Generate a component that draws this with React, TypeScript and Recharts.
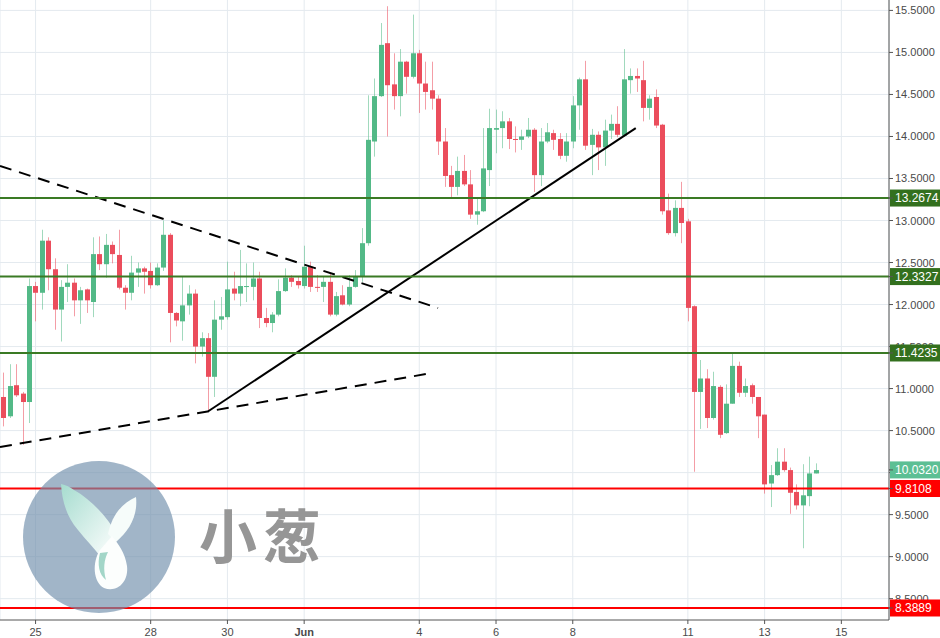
import React from "react";
import { Bar, CartesianGrid, ComposedChart, ReferenceLine, XAxis, YAxis } from "recharts";

// 4h candles, index 0 = 24 May 04:00
const opens = [
  10.9, 10.67, 11.04, 10.94, 10.84, 12.22, 12.14, 12.76, 12.42, 11.94, 12.21, 12.26, 12.05, 12.18, 12.03, 12.6,
  12.48, 12.71, 12.59, 12.2, 12.14, 12.38, 12.43, 12.4, 12.23, 12.44, 12.83, 11.9, 11.8, 11.99, 12.13, 11.5,
  11.6, 11.14, 11.82, 11.85, 12.19, 12.13, 12.21, 12.21, 12.31, 11.84, 11.78, 11.88, 12.16, 12.32, 12.28, 12.22,
  12.45, 12.21, 12.21, 12.27, 11.88, 12.11, 12.0, 12.21, 12.33, 12.73, 13.94, 14.48, 15.11, 14.62, 14.48, 14.89,
  14.71, 14.99, 14.63, 14.55, 14.45, 13.94, 13.54, 13.4, 13.59, 13.43, 13.07, 13.11, 13.6, 14.08, 14.1, 14.18,
  13.97, 13.96, 14.0, 14.08, 13.54, 13.94, 14.04, 13.97, 13.77, 13.94, 14.37, 14.68, 13.9, 14.02, 13.87, 14.07,
  14.15, 14.01, 14.67, 14.72, 14.67, 14.34, 14.47, 14.14, 13.12, 12.85, 13.15, 12.99, 11.98, 10.96, 11.12, 10.65,
  11.02, 10.47, 10.82, 11.27, 10.95, 11.04, 10.9, 10.69, 9.87, 9.97, 10.13, 10.03, 9.77, 9.61, 9.72, 9.99,
];
const highs = [
  11.19, 11.29, 11.29, 10.96, 12.31, 12.27, 12.89, 12.8, 12.55, 12.29, 12.48, 12.31, 12.21, 12.19, 12.8, 12.81,
  12.84, 12.75, 12.89, 12.23, 12.58, 12.5, 12.45, 12.5, 12.49, 13.0, 12.85, 11.91, 12.33, 12.23, 12.18, 11.67,
  11.66, 12.05, 12.09, 12.51, 12.39, 12.65, 12.49, 12.5, 12.39, 11.96, 11.91, 12.3, 12.43, 12.35, 12.33, 12.7,
  12.51, 12.35, 12.33, 12.37, 12.15, 12.23, 12.35, 12.41, 12.91, 14.49, 14.69, 15.35, 15.55, 14.99, 15.04, 14.9,
  15.45, 15.03, 14.89, 14.89, 14.49, 14.1, 13.65, 13.76, 13.78, 13.6, 13.26, 14.1, 14.33, 14.32, 14.3, 14.22,
  14.12, 14.08, 14.22, 14.1, 14.1, 14.16, 14.08, 14.04, 14.04, 14.48, 14.7, 14.9, 14.09, 14.06, 14.2, 14.26,
  14.36, 15.04, 14.81, 14.81, 14.9, 14.49, 14.56, 14.15, 13.32, 13.24, 13.46, 13.02, 11.99, 11.34, 11.23, 11.2,
  11.04, 11.05, 11.42, 11.32, 11.12, 11.06, 10.9, 10.69, 10.09, 10.29, 10.29, 10.06, 9.86, 10.1, 10.19, 10.11,
];
const lows = [
  10.55, 10.65, 10.9, 10.33, 10.59, 11.8, 11.94, 12.17, 11.7, 11.56, 12.03, 11.86, 11.77, 11.9, 11.85, 12.41,
  12.32, 12.49, 12.18, 11.94, 12.05, 12.21, 12.13, 12.19, 12.22, 12.4, 11.55, 11.74, 11.57, 11.88, 11.3, 11.38,
  10.73, 10.9, 11.7, 11.82, 12.05, 11.98, 12.03, 12.05, 11.72, 11.73, 11.67, 11.86, 12.15, 12.21, 12.19, 12.19,
  12.15, 12.15, 12.03, 11.86, 11.86, 11.99, 11.98, 12.2, 12.27, 12.7, 13.76, 14.47, 14.0, 14.32, 14.24, 14.51,
  14.69, 14.28, 14.32, 14.32, 13.78, 13.4, 13.26, 13.3, 13.41, 13.02, 12.95, 13.1, 13.41, 13.8, 13.86, 13.85,
  13.81, 13.84, 13.98, 13.34, 13.41, 13.92, 13.84, 13.73, 13.7, 13.86, 14.08, 13.84, 13.54, 13.6, 13.65, 13.97,
  13.99, 14.0, 14.51, 14.53, 14.18, 14.2, 14.1, 13.07, 12.83, 12.81, 12.73, 11.8, 10.01, 10.52, 10.53, 10.63,
  10.41, 10.46, 10.82, 10.9, 10.9, 10.82, 10.41, 9.75, 9.59, 9.96, 10.01, 9.51, 9.56, 9.1, 9.6, 9.99,
];
const closes = [
  10.65, 11.03, 10.92, 10.84, 12.22, 12.14, 12.76, 12.42, 11.94, 12.21, 12.26, 12.05, 12.17, 12.05, 12.6, 12.48,
  12.71, 12.6, 12.2, 12.14, 12.38, 12.43, 12.39, 12.23, 12.44, 12.83, 11.9, 11.81, 11.99, 12.13, 11.5, 11.6,
  11.14, 11.82, 11.86, 12.18, 12.13, 12.22, 12.22, 12.31, 11.84, 11.78, 11.88, 12.16, 12.32, 12.27, 12.23, 12.45,
  12.21, 12.2, 12.27, 11.88, 12.1, 12.0, 12.21, 12.34, 12.73, 13.96, 14.48, 15.09, 14.61, 14.48, 14.89, 14.71,
  14.99, 14.63, 14.53, 14.45, 13.94, 13.53, 13.4, 13.59, 13.43, 13.07, 13.11, 13.62, 14.1, 14.1, 14.18, 13.97,
  13.96, 14.0, 14.08, 13.54, 13.94, 14.05, 13.96, 13.77, 13.94, 14.37, 14.68, 13.89, 14.02, 13.87, 14.07, 14.15,
  14.02, 14.68, 14.72, 14.69, 14.34, 14.45, 14.13, 13.11, 12.85, 13.15, 12.97, 11.96, 10.96, 11.12, 10.65, 11.03,
  10.45, 10.82, 11.27, 10.95, 11.03, 10.9, 10.67, 9.86, 9.97, 10.13, 10.03, 9.76, 9.61, 9.73, 9.99, 10.03,
];

const tickIndex = [5, 23, 35, 47, 65, 77, 89, 107, 119, 131];
const tickLabels = ["25", "28", "30", "Jun", "4", "6", "8", "11", "13", "15"];
const priceTicks = [8.5, 9, 9.5, 10, 10.5, 11, 11.5, 12, 12.5, 13, 13.5, 14, 14.5, 15, 15.5];

const greenLevels = [13.2674, 12.3327, 11.4235];
const redLevels = [9.8108, 8.3889];
const lastPrice = 10.032;

// trend lines: [candle index, price] endpoints
const trendLines = [
  { from: [-0.563, 13.649], to: [67.93, 11.959], dashed: true },
  { from: [-0.563, 10.305], to: [67.0, 11.185], dashed: true },
  { from: [32, 10.73], to: [98.85, 14.1], dashed: false },
];

const UP = "#53b987";
const DOWN = "#eb4d5c";
const FONT = "'Liberation Sans', Arial, sans-serif";

const data = opens.map((o, i) => ({
  i,
  o,
  h: highs[i],
  l: lows[i],
  c: closes[i],
  range: [lows[i], highs[i]],
}));

// tags go last so they paint over the plain tick labels
const axisTicks = [...priceTicks, ...greenLevels, ...redLevels, lastPrice];

function tagColor(v: number) {
  if (greenLevels.includes(v)) return "#33701e";
  if (redLevels.includes(v)) return "#ff0000";
  if (v === lastPrice) return "#5cbf94";
  return null;
}

function Candle(props: any) {
  const { x, y, width, height, payload } = props;
  if (!payload) return null;
  const { o, h, l, c } = payload;
  const top = Math.min(y, y + height);
  const span = Math.abs(height);
  const k = h === l ? 0 : span / (h - l);
  const cx = Math.floor(x + width / 2);
  const yO = top + (h - o) * k;
  const yC = top + (h - c) * k;
  const color = c >= o ? UP : DOWN;
  const bt = Math.min(yO, yC);
  const bh = Math.max(1, Math.abs(yO - yC));
  return (
    <g>
      <line x1={cx + 0.5} x2={cx + 0.5} y1={top} y2={top + span} stroke={color} strokeOpacity={0.55} />
      <rect x={cx - 2} y={bt} width={5} height={bh} fill={color} />
    </g>
  );
}

function PriceTick(props: any) {
  const { x, y, payload } = props;
  const v = payload.value as number;
  const bg = tagColor(v);
  if (!bg) {
    return (
      <text x={x} y={y + 4} fill="#4a4a4a" fontSize={11} fontFamily={FONT}>
        {v.toFixed(4)}
      </text>
    );
  }
  return (
    <g>
      <rect x={x - 5} y={y - 8.5} width={52} height={17} fill={bg} />
      <line x1={x - 6} x2={x - 2} y1={y} y2={y} stroke="#555" />
      <text x={x} y={y + 4} fill="#fff" fontSize={12} fontFamily={FONT}>
        {v.toFixed(4)}
      </text>
    </g>
  );
}

function DayTick(props: any) {
  const { x, y, payload } = props;
  const idx = tickIndex.indexOf(payload.value);
  const label = tickLabels[idx] ?? "";
  return (
    <text
      x={x}
      y={y + 10}
      textAnchor="middle"
      fill="#4a4a4a"
      fontSize={11}
      fontWeight={label === "Jun" ? 700 : 400}
      fontFamily={FONT}
    >
      {label}
    </text>
  );
}

function Watermark() {
  return (
    <svg
      width={940}
      height={638}
      style={{ position: "absolute", left: 0, top: 0, pointerEvents: "none" }}
    >
      <defs>
        <linearGradient id="leaf" x1="0" y1="0" x2="1" y2="1">
          <stop offset="0%" stopColor="#a6dccf" />
          <stop offset="100%" stopColor="#ffffff" />
        </linearGradient>
      </defs>
      <circle cx={99} cy={537} r={76} fill="rgb(112,142,172)" fillOpacity={0.66} />
      <path
        d="M61,484 C62,500 66,516 78,530 C86,540 94,548 100,556 L118,536 C108,518 92,500 74,490 C70,487 66,485 61,484 Z"
        fill="url(#leaf)"
      />
      <path d="M136,497 C122,503 112,515 108,534 L116,542 C130,530 138,515 136,497 Z" fill="#f6fcfa" />
      <path
        d="M100,550 C92,562 93,582 104,588 C117,593 129,582 127,566 C125,552 118,544 112,536 Z"
        fill="#fcfefd"
      />
      <path d="M100,553 C97,564 99,575 106,580 C103,569 104,560 108,552 Z" fill="#a3d6c8" />
      <text
        x={199}
        y={558}
        fontSize={58}
        fontWeight={700}
        letterSpacing={6}
        fill="rgb(150,150,150)"
        fontFamily="'Noto Sans CJK SC', sans-serif"
      >
        小葱
      </text>
    </svg>
  );
}

export default function App() {
  return (
    <div
      style={{ position: "fixed", left: 0, top: 0, width: 940, height: 638, background: "#fff" }}
    >
      <ComposedChart
        width={940}
        height={638}
        data={data}
        margin={{ top: 0, right: 0, bottom: 0, left: 0 }}
      >
        <CartesianGrid stroke="#e4eaef" horizontalValues={priceTicks} />
        <XAxis
          dataKey="i"
          type="number"
          domain={[-0.563, 138.45]}
          allowDataOverflow
          ticks={tickIndex}
          interval={0}
          height={18}
          stroke="#555"
          tickSize={4}
          tick={<DayTick />}
        />
        <YAxis
          orientation="right"
          type="number"
          domain={[8.246, 15.624]}
          allowDataOverflow
          ticks={axisTicks}
          interval={0}
          width={51}
          stroke="#555"
          tickSize={4}
          tickMargin={2}
          tick={<PriceTick />}
        />
        <Bar dataKey="range" barSize={5} shape={<Candle />} isAnimationActive={false} />
        {trendLines.map((t, k) => (
          <ReferenceLine
            key={`t${k}`}
            segment={[
              { x: t.from[0], y: t.from[1] },
              { x: t.to[0], y: t.to[1] },
            ]}
            stroke="#000"
            strokeWidth={2}
            strokeDasharray={t.dashed ? "12 8" : undefined}
            ifOverflow="visible"
          />
        ))}
        {greenLevels.map((v) => (
          <ReferenceLine key={`g${v}`} y={v} stroke="#3a7a24" strokeWidth={2} />
        ))}
        {redLevels.map((v) => (
          <ReferenceLine key={`r${v}`} y={v} stroke="#ff0000" strokeWidth={2} />
        ))}
      </ComposedChart>
      <Watermark />
    </div>
  );
}
